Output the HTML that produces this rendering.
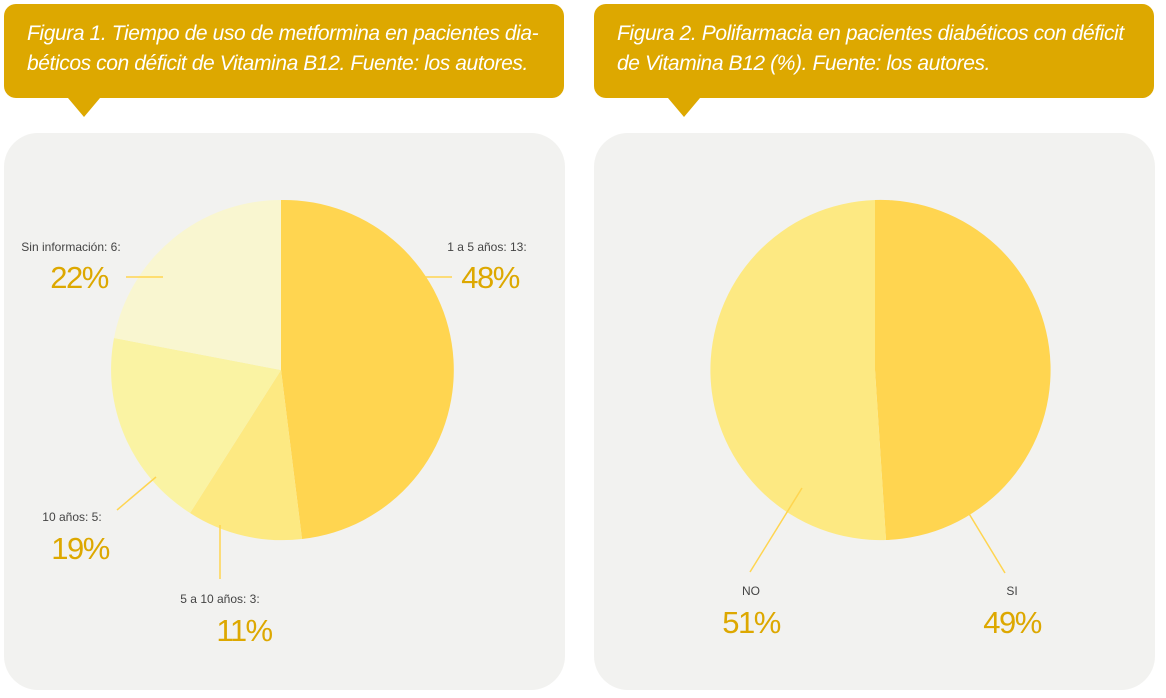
<!DOCTYPE html>
<html><head><meta charset="utf-8"><style>
body{margin:0;width:1166px;height:698px;background:#fff;overflow:hidden;font-family:"Liberation Sans",sans-serif}
.hd{position:absolute;top:4px;width:560px;height:94px;background:#DDA800;border-radius:12px;color:#fff;font-style:italic;font-size:21px;line-height:30px;box-sizing:border-box;padding:15px 0 0 23px;letter-spacing:-0.4px;white-space:nowrap}
.panel{position:absolute;top:133px;width:561px;height:557px;background:#F2F2F0;border-radius:34px}
</style></head><body>
<div class="hd" style="left:4px">Figura 1. Tiempo de uso de metformina en pacientes dia-<br>béticos con déficit de Vitamina B12. Fuente: los autores.</div>
<div class="hd" style="left:594px">Figura 2. Polifarmacia en pacientes diabéticos con déficit<br>de Vitamina B12 (%). Fuente: los autores.</div>
<div class="panel" style="left:4px"></div>
<div class="panel" style="left:594px"></div>
<svg width="1166" height="698" style="position:absolute;left:0;top:0" font-family="Liberation Sans, sans-serif">
<polygon points="68,98 100,98 84,117" fill="#DDA800"/>
<polygon points="668,98 700,98 684,117" fill="#DDA800"/>
<!-- pie 1 -->
<path d="M281,370 L281,200 A170,170 0 0 1 302,539 Z" fill="#FFD550"/>
<path d="M281,370 L302,539 A170,170 0 0 1 190,513 Z" fill="#FDE982"/>
<path d="M281,370 L190,513 A170,170 0 0 1 114,338 Z" fill="#FAF3A3"/>
<path d="M281,370 L114,338 A170,170 0 0 1 281,200 Z" fill="#F9F6D0"/>
<!-- pie 2 -->
<path d="M875,370 L875,200 A170,170 0 0 1 886,540 Z" fill="#FFD550"/>
<path d="M875,370 L886,540 A170,170 0 0 1 875,200 Z" fill="#FDE982"/>
<g stroke="#FFD550" stroke-width="1.5">
<line x1="420" y1="277" x2="452" y2="277"/>
<line x1="126" y1="277" x2="163" y2="277"/>
<line x1="117" y1="510" x2="156" y2="477"/>
<line x1="220" y1="525" x2="220" y2="579"/>
<line x1="750" y1="572" x2="802" y2="488"/>
<line x1="968" y1="512" x2="1005" y2="573"/>
</g>
<g font-size="12" fill="#444" text-anchor="middle">
<text x="487" y="251">1 a 5 años: 13:</text>
<text x="71" y="251">Sin información: 6:</text>
<text x="72" y="521">10 años: 5:</text>
<text x="220" y="603">5 a 10 años: 3:</text>
<text x="751" y="595">NO</text>
<text x="1012" y="595">SI</text>
</g>
<g font-size="31" fill="#DDA800" text-anchor="middle" letter-spacing="-1.5">
<text x="490" y="288">48%</text>
<text x="79" y="288">22%</text>
<text x="80" y="559">19%</text>
<text x="244" y="641">11%</text>
<text x="751" y="633">51%</text>
<text x="1012" y="633">49%</text>
</g>
</svg>
</body></html>
